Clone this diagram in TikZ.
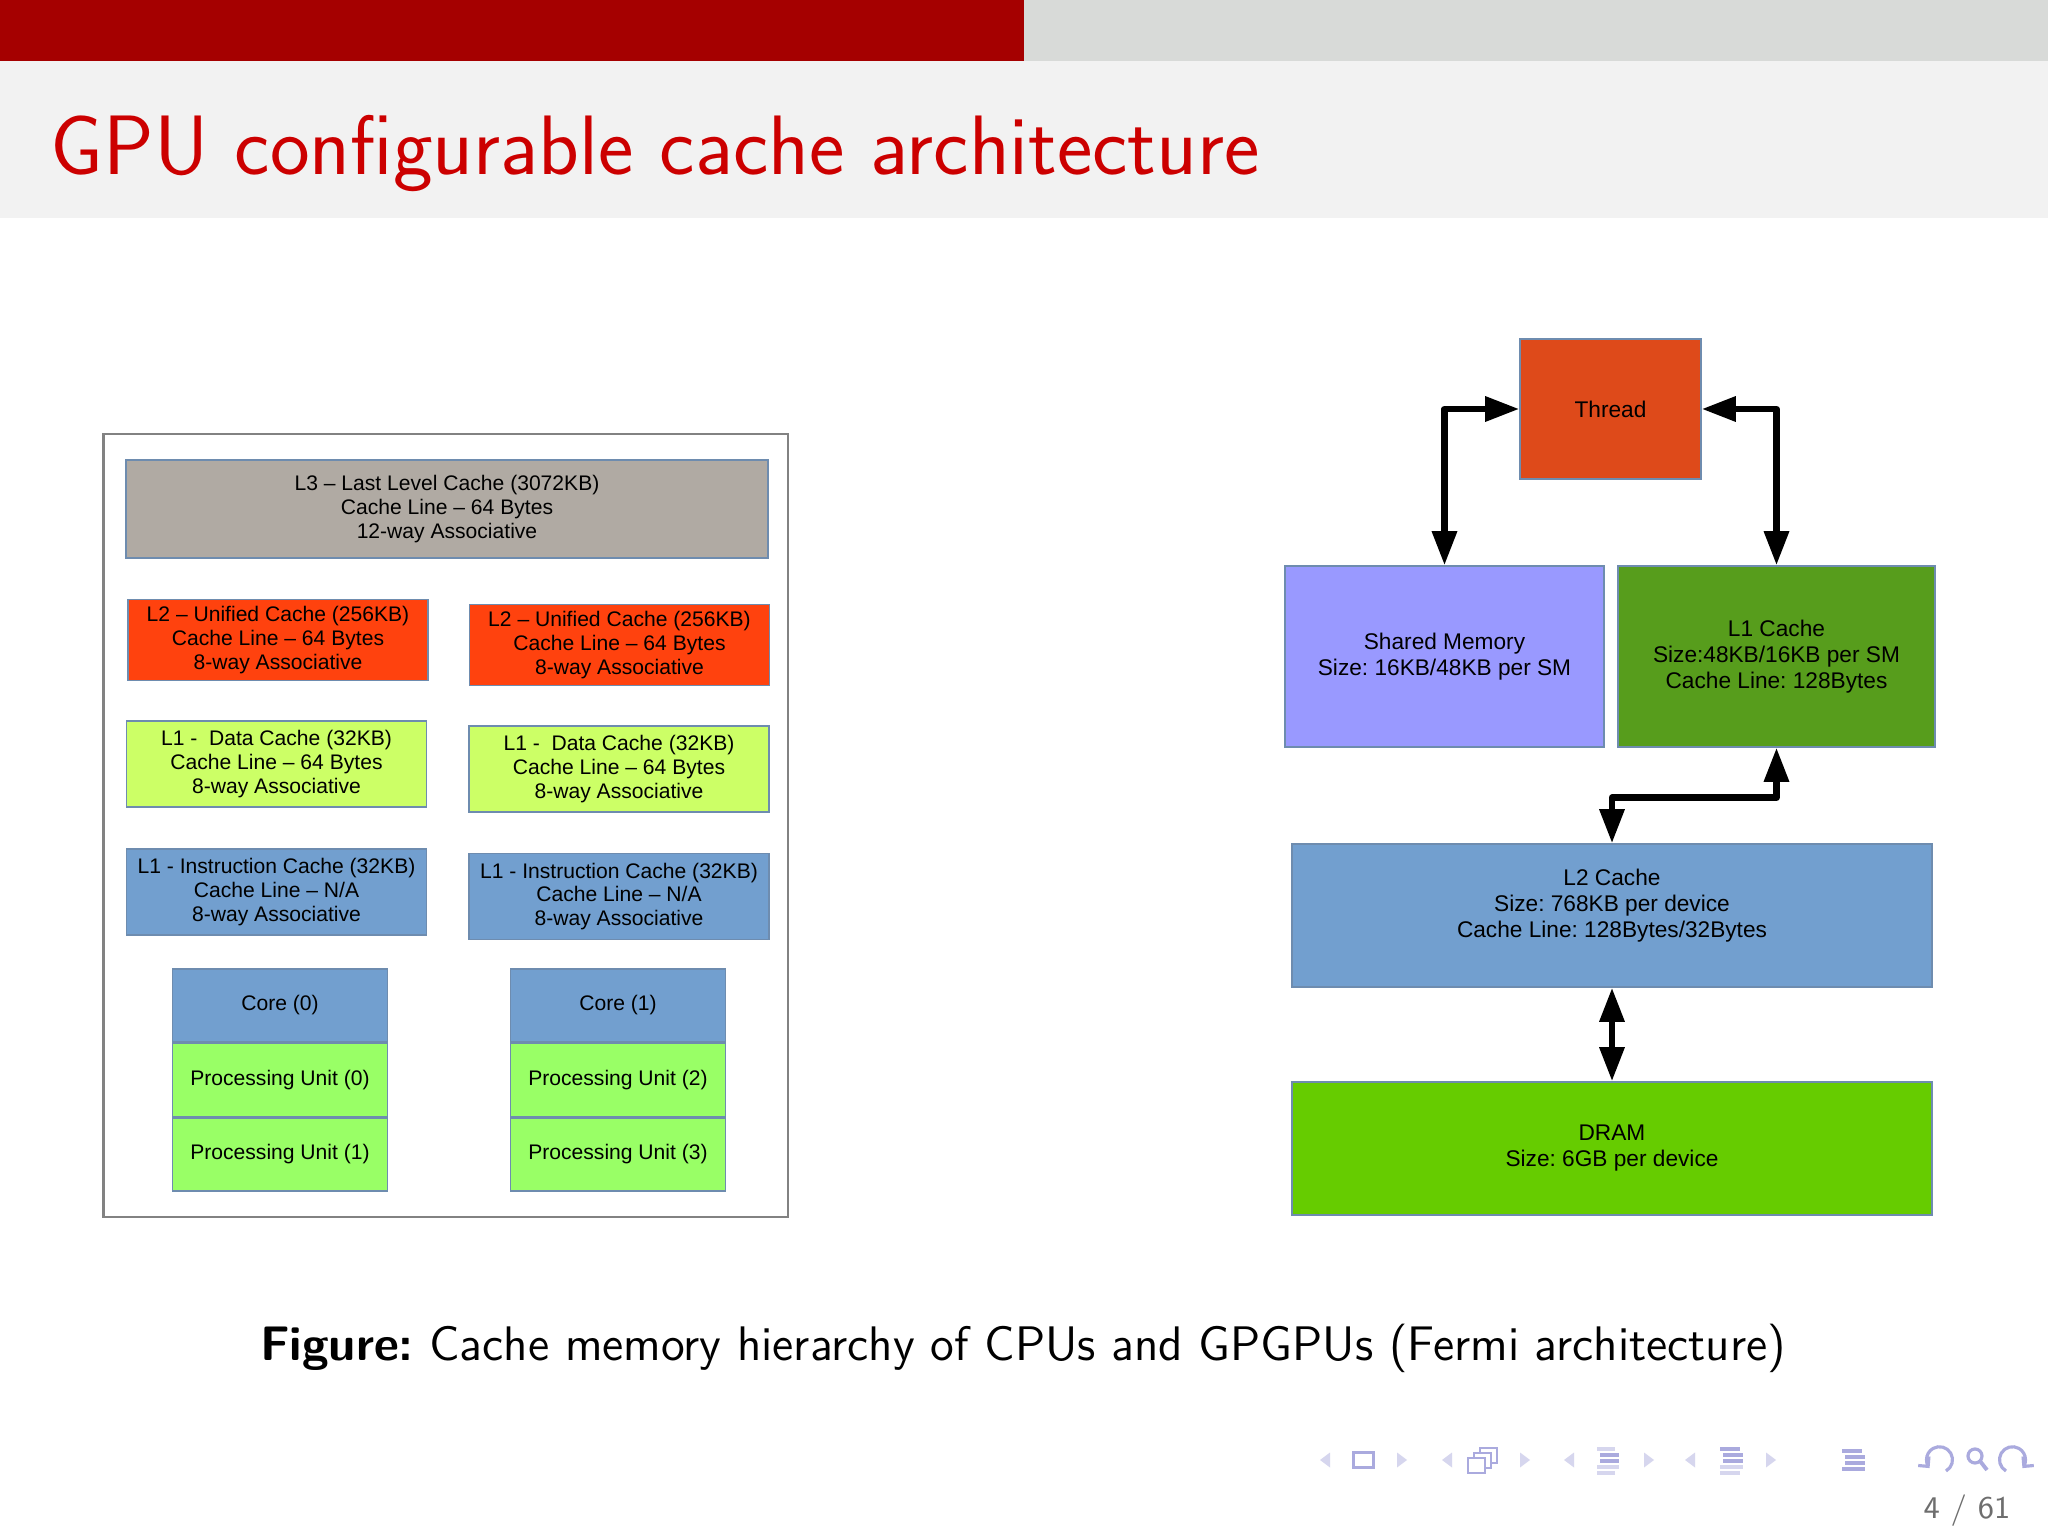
\documentclass[tikz,border=0pt]{standalone}
\usepackage{fontspec}
\usepackage{tikz}
\usetikzlibrary{positioning,arrows.meta}
\newfontfamily\boxfont{Liberation Sans}
\frenchspacing
\definecolor{barred}{RGB}{165,0,0}
\definecolor{bargray}{RGB}{216,218,216}
\definecolor{titleband}{RGB}{242,242,242}
\definecolor{titlered}{RGB}{204,0,0}
\definecolor{lthree}{RGB}{176,170,163}
\definecolor{ltwo}{RGB}{255,66,14}
\definecolor{lonedata}{RGB}{204,255,102}
\definecolor{boxblue}{RGB}{114,159,207}
\definecolor{pugreen}{RGB}{153,255,102}
\definecolor{threadred}{RGB}{222,74,26}
\definecolor{sharedblue}{RGB}{153,153,255}
\definecolor{lonegreen}{RGB}{87,157,28}
\definecolor{dramgreen}{RGB}{102,204,0}
\definecolor{boxline}{RGB}{110,140,175}
\definecolor{framegray}{RGB}{130,130,130}
\definecolor{navlight}{RGB}{214,214,238}
\definecolor{navdark}{RGB}{170,170,222}
\definecolor{pagegray}{RGB}{110,110,110}
\tikzset{
  cpubox/.style={rectangle, draw=boxline, line width=0.4pt, fill=#1, align=center, inner sep=0pt,
    font=\boxfont\fontsize{6}{6.8}\selectfont},
  cachebox/.style={cpubox=#1, minimum width=3cm, minimum height=0.86cm},
  unitbox/.style={cpubox=#1, minimum width=2.145cm, minimum height=0.73cm},
  gpubox/.style={rectangle, draw=boxline, line width=0.4pt, fill=#1, align=center, inner sep=0pt,
    font=\boxfont\fontsize{6.45}{7.4}\selectfont},
  link/.style={line width=1.85pt, line join=round,
    {Triangle[length=9.7pt,width=6.8pt]}-{Triangle[length=9.7pt,width=6.8pt]}},
  navtri/.style={fill=navlight},
  navbar/.style={line width=1.2pt}
}
\begin{document}
\begin{tikzpicture}[x=1cm, y=-1cm]
\useasboundingbox (0,0) rectangle (20.48,15.36);
\fill [white] (0,0) rectangle (20.48,15.36);
\fill [barred] (0,0) rectangle (10.24,0.61);
\fill [bargray] (10.24,0) rectangle (20.48,0.61);
\fill [titleband] (0,0.61) rectangle (20.48,2.18);
\node [anchor=base west, inner sep=0pt, text=titlered, font=\sffamily\fontsize{24}{28}\selectfont] (title) at (0.50,1.75) {GPU configurable cache architecture};

\node [draw=framegray, line width=0.6pt, minimum width=6.845cm, minimum height=7.83cm, inner sep=0pt] (cpu) at (4.4575,8.255) {};
\node [cpubox=lthree, minimum width=6.42cm, minimum height=0.98cm] (l3) at (4.47,5.09) {L3 – Last Level Cache (3072KB)\\Cache Line – 64 Bytes\\12-way Associative};
\node [cachebox=ltwo, minimum height=0.81cm] (l2a) at (2.78,6.40) {L2 – Unified Cache (256KB)\\Cache Line – 64 Bytes\\8-way Associative};
\node [cachebox=ltwo, minimum height=0.81cm] (l2b) at (6.195,6.45) {L2 – Unified Cache (256KB)\\Cache Line – 64 Bytes\\8-way Associative};
\node [cachebox=lonedata] (l1da) at (2.765,7.64) {L1 -\ \ Data Cache (32KB)\\Cache Line – 64 Bytes\\8-way Associative};
\node [cachebox=lonedata] (l1db) at (6.19,7.69) {L1 -\ \ Data Cache (32KB)\\Cache Line – 64 Bytes\\8-way Associative};
\node [cachebox=boxblue] (l1ia) at (2.765,8.92) {L1 - Instruction Cache (32KB)\\Cache Line – N/A\\8-way Associative};
\node [cachebox=boxblue] (l1ib) at (6.19,8.965) {L1 - Instruction Cache (32KB)\\Cache Line – N/A\\8-way Associative};
\node [unitbox=boxblue] (core0) at (2.80,10.055) {Core (0)};
\node [unitbox=pugreen, below=0pt of core0] (pu0) {Processing Unit (0)};
\node [unitbox=pugreen, below=0pt of pu0] (pu1) {Processing Unit (1)};
\node [unitbox=boxblue] (core1) at (6.18,10.055) {Core (1)};
\node [unitbox=pugreen, below=0pt of core1] (pu2) {Processing Unit (2)};
\node [unitbox=pugreen, below=0pt of pu2] (pu3) {Processing Unit (3)};

\node [gpubox=threadred, minimum width=1.81cm, minimum height=1.40cm] (thread) at (16.105,4.09) {Thread};
\node [gpubox=sharedblue, minimum width=3.19cm, minimum height=1.81cm] (shared) at (14.445,6.565) {Shared Memory\\Size: 16KB/48KB per SM};
\node [gpubox=lonegreen, minimum width=3.17cm, minimum height=1.81cm] (l1cache) at (17.765,6.565) {L1 Cache\\Size:48KB/16KB per SM\\Cache Line: 128Bytes};
\node [gpubox=boxblue, minimum width=6.40cm, minimum height=1.43cm, text depth=0.25cm] (l2cache) at (16.12,9.155) {L2 Cache\\Size: 768KB per device\\Cache Line: 128Bytes/32Bytes};
\node [gpubox=dramgreen, minimum width=6.40cm, minimum height=1.33cm] (dram) at (16.12,11.485) {DRAM\\Size: 6GB per device};
\draw [link] (thread.west) -| (shared.north);
\draw [link] (thread.east) -| (l1cache.north);
\draw [link] (l1cache.south) -- ++(0,0.50) -| (l2cache.north);
\draw [link] (l2cache.south) -- (dram.north);

\node [anchor=base, inner sep=0pt, font=\sffamily\fontsize{13.8}{16}\selectfont] (caption) at (10.23,13.60) {\textbf{Figure:} Cache memory hierarchy of CPUs and GPGPUs (Fermi architecture)};

\fill [navtri] (13.20,14.60) -- (13.30,14.525) -- (13.30,14.675) -- cycle;
\draw [navdark, line width=0.9pt] (13.535,14.525) rectangle (13.735,14.675);
\fill [navtri] (14.07,14.60) -- (13.97,14.525) -- (13.97,14.675) -- cycle;
\fill [navtri] (14.42,14.60) -- (14.52,14.525) -- (14.52,14.675) -- cycle;
\draw [navdark, line width=0.8pt, fill=white] (14.80,14.48) rectangle (14.97,14.63);
\draw [navdark, line width=0.8pt, fill=white] (14.74,14.53) rectangle (14.91,14.68);
\draw [navdark, line width=0.8pt, fill=white] (14.68,14.58) rectangle (14.85,14.73);
\fill [navtri] (15.30,14.60) -- (15.20,14.525) -- (15.20,14.675) -- cycle;
\fill [navtri] (15.64,14.60) -- (15.74,14.525) -- (15.74,14.675) -- cycle;
\draw [navbar, navlight] (15.97,14.49) -- (16.15,14.49);
\draw [navbar, navdark] (16.00,14.55) -- (16.19,14.55);
\draw [navbar, navdark] (16.00,14.61) -- (16.19,14.61);
\draw [navbar, navlight] (15.97,14.67) -- (16.19,14.67);
\draw [navbar, navlight] (15.97,14.73) -- (16.15,14.73);
\fill [navtri] (16.54,14.60) -- (16.44,14.525) -- (16.44,14.675) -- cycle;
\fill [navtri] (16.85,14.60) -- (16.95,14.525) -- (16.95,14.675) -- cycle;
\draw [navbar, navdark] (17.20,14.49) -- (17.40,14.49);
\draw [navbar, navdark] (17.23,14.55) -- (17.43,14.55);
\draw [navbar, navdark] (17.23,14.61) -- (17.43,14.61);
\draw [navbar, navlight] (17.20,14.67) -- (17.43,14.67);
\draw [navbar, navlight] (17.20,14.73) -- (17.40,14.73);
\fill [navtri] (17.76,14.60) -- (17.66,14.525) -- (17.66,14.675) -- cycle;
\draw [navbar, navdark] (18.42,14.51) -- (18.62,14.51);
\draw [navbar, navdark] (18.45,14.57) -- (18.65,14.57);
\draw [navbar, navdark] (18.45,14.63) -- (18.65,14.63);
\draw [navbar, navdark] (18.42,14.69) -- (18.65,14.69);
\draw [navdark, line width=0.9pt, -{Straight Barb[length=2pt]}] (19.46,14.71) arc (60:-220:0.13);
\draw [navdark, line width=0.9pt] (19.75,14.56) circle (0.07);
\draw [navdark, line width=1.1pt] (19.80,14.61) -- (19.87,14.70);
\draw [navdark, line width=0.9pt, -{Straight Barb[length=2pt]}] (20.06,14.71) arc (120:400:0.13);
\node [anchor=base east, inner sep=0pt, text=pagegray, font=\sffamily\fontsize{9}{11}\selectfont] (pagenum) at (20.11,15.18) {4 / 61};
\end{tikzpicture}
\end{document}
